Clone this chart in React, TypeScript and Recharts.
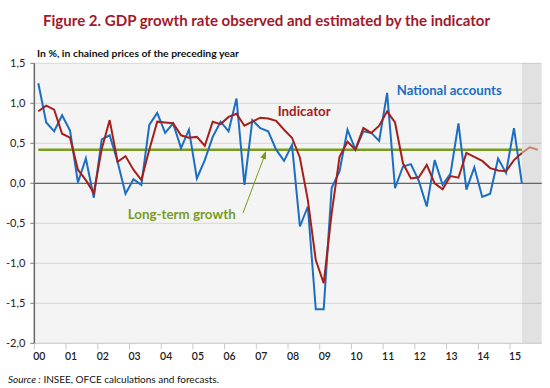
import { LineChart, Line, XAxis, YAxis, CartesianGrid, ReferenceLine, ReferenceArea } from 'recharts';

const YEARS = ['00', '01', '02', '03', '04', '05', '06', '07', '08', '09', '10', '11', '12', '13', '14', '15'];
const QUARTERS = YEARS.flatMap((y) => ['T1', 'T2', 'T3', 'T4'].map((q) => `20${y}${q}`));

// quarterly GDP growth, in %
const NATIONAL_ACCOUNTS = [
  1.25, 0.76, 0.65, 0.85, 0.66, 0.01, 0.31, -0.18, 0.55, 0.6, 0.27, -0.13, 0.05, -0.02, 0.73, 0.88,
  0.63, 0.75, 0.44, 0.67, 0.06, 0.29, 0.58, 0.77, 0.65, 1.06, -0.02, 0.79, 0.69, 0.65, 0.42, 0.28,
  0.48, -0.54, -0.29, -1.575, -1.575, -0.06, 0.15, 0.67, 0.42, 0.65, 0.63, 0.53, 1.13, -0.06, 0.21, 0.24,
  0.03, -0.29, 0.29, -0.02, 0.12, 0.75, -0.08, 0.2, -0.17, -0.13, 0.31, 0.13, 0.69, 0.0,
];
const INDICATOR = [
  0.9, 0.97, 0.92, 0.62, 0.57, 0.17, 0.04, -0.12, 0.43, 0.79, 0.27, 0.34, 0.17, 0.04, 0.42, 0.77,
  0.76, 0.75, 0.6, 0.57, 0.58, 0.47, 0.77, 0.74, 0.83, 0.87, 0.72, 0.77, 0.82, 0.81, 0.78, 0.67,
  0.57, 0.32, -0.21, -0.96, -1.25, -0.38, 0.33, 0.52, 0.42, 0.69, 0.63, 0.72, 0.9, 0.76, 0.25, 0.06,
  0.075, 0.23, 0.0, -0.075, 0.09, 0.07, 0.38, 0.33, 0.28, 0.19, 0.16, 0.15, 0.29, 0.38,
];
const INDICATOR_FORECAST = [0.45, 0.42];
const LONG_TERM_GROWTH = 0.42;
const Y_TICKS = [-2, -1.5, -1, -0.5, 0, 0.5, 1, 1.5];

const LAST_OBS = NATIONAL_ACCOUNTS.length - 1;

const data = QUARTERS.map((q, i) => ({
  q,
  i,
  na: i <= LAST_OBS ? NATIONAL_ACCOUNTS[i] : null,
  ind: i < INDICATOR.length ? INDICATOR[i] : null,
  fc: i === INDICATOR.length - 1 ? INDICATOR[i] : i >= INDICATOR.length ? INDICATOR_FORECAST[i - INDICATOR.length] : null,
}));

const X_TICKS = YEARS.map((_, k) => k * 4 - 0.5);

const FONT = 'Lato, "Open Sans", sans-serif';
const DARK_RED = '#a3182b';
const RED = '#a5201b';
const BLUE = '#1b6ec2';
const GREEN = '#7a9c1e';

const YearTick = (props: any) => {
  const { x, y, payload } = props;
  const k = Math.round((payload.value + 0.5) / 4);
  return (
    <text x={x + 5} y={y} dy={9} textAnchor="middle" fontSize={10.5} fontWeight={600} fill="#222" fontFamily={FONT}>
      {YEARS[k]}
    </text>
  );
};

export default function App() {
  return (
    <div style={{ position: 'absolute', left: 0, top: 0, width: 550, height: 388, background: '#fff', fontFamily: FONT }}>
      <LineChart width={550} height={388} data={data} margin={{ top: 63.3, right: 8.3, bottom: 14.7, left: 0 }}>
        <CartesianGrid vertical={false} stroke="#d6d6d6" fill="#f4f4f4" />
        <ReferenceArea x1={LAST_OBS} x2={63.5} fill="#000" fillOpacity={0.075} stroke="none" ifOverflow="visible" />
        <XAxis
          dataKey="i"
          type="number"
          domain={[-0.5, 63.5]}
          ticks={X_TICKS}
          tick={<YearTick />}
          tickSize={6}
          tickLine={{ stroke: '#c8c8c8' }}
          axisLine={{ stroke: '#cfcfcf' }}
          height={30}
          interval={0}
        />
        <YAxis
          domain={[-2, 1.5]}
          ticks={Y_TICKS}
          width={34.35}
          tickSize={4}
          tickMargin={5}
          tickFormatter={(v: number) => v.toFixed(1).replace('.', ',')}
          tick={{ fontSize: 11, fill: '#222', fontFamily: FONT }}
          tickLine={{ stroke: '#777' }}
          axisLine={{ stroke: '#666', strokeWidth: 1.5 }}
          interval={0}
        />
        <ReferenceLine y={0} stroke="#666" strokeWidth={1.2} />
        <ReferenceLine
          segment={[{ x: 0, y: LONG_TERM_GROWTH }, { x: LAST_OBS, y: LONG_TERM_GROWTH }]}
          stroke={GREEN}
          strokeWidth={2.5}
        />
        <Line dataKey="na" stroke={BLUE} strokeWidth={2} dot={false} isAnimationActive={false} connectNulls={false} />
        <Line dataKey="ind" stroke={RED} strokeWidth={2} dot={false} isAnimationActive={false} connectNulls={false} />
        <Line dataKey="fc" stroke="#c4846c" strokeWidth={2} dot={false} isAnimationActive={false} connectNulls={false} />
      </LineChart>
      <svg width={550} height={388} style={{ position: 'absolute', left: 0, top: 0, pointerEvents: 'none' }} fontFamily={FONT}>
        <text x={43} y={26} fontSize={16} fontWeight={700} fill={DARK_RED} textLength={447} lengthAdjust="spacingAndGlyphs">
          Figure 2. GDP growth rate observed and estimated by the indicator
        </text>
        <text x={37} y={56.5} fontSize={10} fontWeight={700} fill="#111" textLength={202} lengthAdjust="spacingAndGlyphs">
          In %, in chained prices of the preceding year
        </text>
        <text x={277.7} y={116} fontSize={12.5} fontWeight={700} fill={RED} textLength={53} lengthAdjust="spacingAndGlyphs">Indicator</text>
        <text x={396.7} y={95} fontSize={13} fontWeight={700} fill={BLUE} textLength={105} lengthAdjust="spacingAndGlyphs">National accounts</text>
        <text x={127.7} y={219} fontSize={13} fontWeight={700} fill={GREEN} textLength={108} lengthAdjust="spacingAndGlyphs">Long-term growth</text>
        <line x1={243} y1={213} x2={264} y2={157} stroke={GREEN} strokeWidth={1} />
        <polygon points="266,151 266,159.5 260.4,157.5" fill={GREEN} />
        <text x={8} y={383} fontSize={10} fill="#111" textLength={211} lengthAdjust="spacingAndGlyphs">
          <tspan fontStyle="italic">Source :</tspan> INSEE, OFCE calculations and forecasts.
        </text>
      </svg>
    </div>
  );
}
